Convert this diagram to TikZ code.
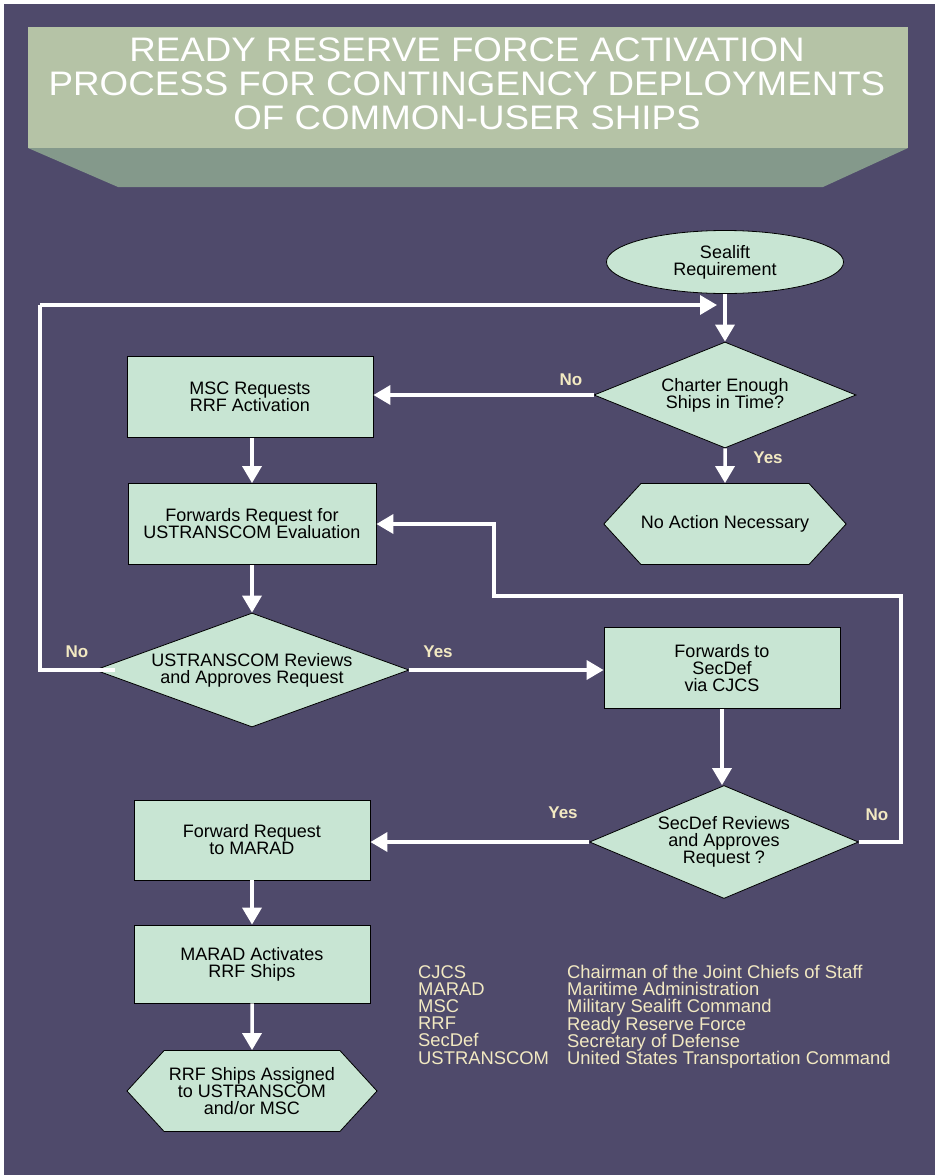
\documentclass[tikz,border=0pt]{standalone}
\usepackage{fontspec}
\setmainfont{Liberation Sans}
\newfontfamily\titlefont[FakeStretch=1.08]{Liberation Sans}
\usetikzlibrary{shapes.geometric,shapes.symbols,arrows.meta,calc}
\definecolor{bgpurple}{HTML}{4F4A6B}
\definecolor{boxmint}{HTML}{C8E5D3}
\definecolor{titlegreen}{HTML}{B5C3A6}
\definecolor{titleshade}{HTML}{84998B}
\definecolor{cream}{HTML}{F2E9C2}

\begin{document}
\begin{tikzpicture}[x=1pt,y=-1pt,
  stepbox/.style={draw=black,line width=0.8pt,fill=boxmint,align=center,inner sep=0pt,font=\fontsize{18}{17}\selectfont},
  procbox/.style={stepbox,rectangle,minimum width=236,minimum height=80},
  decbox/.style={stepbox,diamond},
  endbox/.style={stepbox,signal,signal to=east and west,signal pointer angle=95,minimum height=81},
  arr/.style={draw=white,line width=3.5pt,-{Triangle[width=19pt,length=17pt]}},
  answer/.style={text=cream,font=\fontsize{17}{17}\selectfont\bfseries},
  legend/.style={text=cream,align=left,anchor=north west,inner sep=0pt,font=\fontsize{18.4}{17.2}\selectfont}]
\useasboundingbox (0,0) rectangle (935,1175);
\fill[white] (0,0) rectangle (935,1175);
\fill[bgpurple] (4,4) rectangle (935,1175);
\fill[titleshade] (28,148) -- (908,148) -- (823,187) -- (118,187) -- cycle;
\fill[titlegreen] (28,27) rectangle (908,148);
\node[text=white,align=center,font=\titlefont\fontsize{34}{34}\selectfont] (title) at (467,84){READY RESERVE FORCE ACTIVATION\\PROCESS FOR CONTINGENCY DEPLOYMENTS\\OF COMMON-USER SHIPS};
\node[stepbox,ellipse,minimum width=237,minimum height=63] (node) at (725, 262){Sealift\\Requirement};
\node[decbox,aspect=2.47,minimum width=262,minimum height=106] (node0) at (725, 395){Charter Enough\\Ships in Time?};
\node[endbox,minimum width=236] (node00) at (725, 524){No Action Necessary};
\node[procbox,minimum width=246,minimum height=81] (node01) at (250, 397){MSC Requests\\RRF Activation};
\node[procbox,minimum width=248,minimum height=81] (node010) at (252, 524){Forwards Request for\\USTRANSCOM Evaluation};
\node[decbox,aspect=2.75,minimum width=314,minimum height=114] (node0100) at (252, 670){USTRANSCOM Reviews\\and Approves Request};
\node[procbox,minimum height=81] (node01001) at (722, 668){Forwards to\\SecDef\\via CJCS};
\node[decbox,aspect=2.38,minimum width=269,minimum height=113] (node010010) at (724, 842){SecDef Reviews\\and Approves\\Request ?};
\node[procbox] (node0100100) at (252, 840){Forward Request\\to MARAD};
\node[procbox,minimum height=78] (node01001000) at (252, 964){MARAD Activates\\RRF Ships};
\node[endbox,minimum width=250] (node010010000) at (252, 1091){RRF Ships Assigned\\to USTRANSCOM\\and/or MSC};
\coordinate (loop) at (40, 305);
\coordinate (merge) at (717, 305);
\coordinate (back0) at (901, 596);
\coordinate (back1) at (494, 524);
\draw[arr](node) -- (node0);
\draw[arr](node0) -- (node00);
\draw[arr](node0.west) -- (node0.west -| node01.east);
\draw[arr](node01.south -| node010.north) -- (node010.north);
\draw[arr](node010) -- (node0100);
\draw[arr,-]($(node0100.west)+(20,0)$) -| (loop);
\draw[arr](loop) -- (merge);
\draw[arr](node0100.east) -- (node0100.east -| node01001.west);
\draw[arr](node01001.south) -- (node01001.south |- node010010.north);
\draw[arr](node010010.east) -| (back0) -| (back1) -- (node010.east);
\draw[arr](node010010.west) -- (node010010.west -| node0100100.east);
\draw[arr](node0100100) -- (node01001000);
\draw[arr](node01001000) -- (node010010000);
\node[answer] (no0) at (571, 380){No};
\node[answer] (yes0) at (768, 458){Yes};
\node[answer] (no1) at (77, 652){No};
\node[answer] (yes1) at (438, 652){Yes};
\node[answer] (yes2) at (563, 813){Yes};
\node[answer] (no2) at (877, 815){No};
\node[legend] (abbr) at (418, 965){CJCS\\MARAD\\MSC\\RRF\\SecDef\\USTRANSCOM};
\node[legend] (meaning) at (567, 965){Chairman of the Joint Chiefs of Staff\\Maritime Administration\\Military Sealift Command\\Ready Reserve Force\\Secretary of Defense\\United States Transportation Command};
\end{tikzpicture}
\end{document}
